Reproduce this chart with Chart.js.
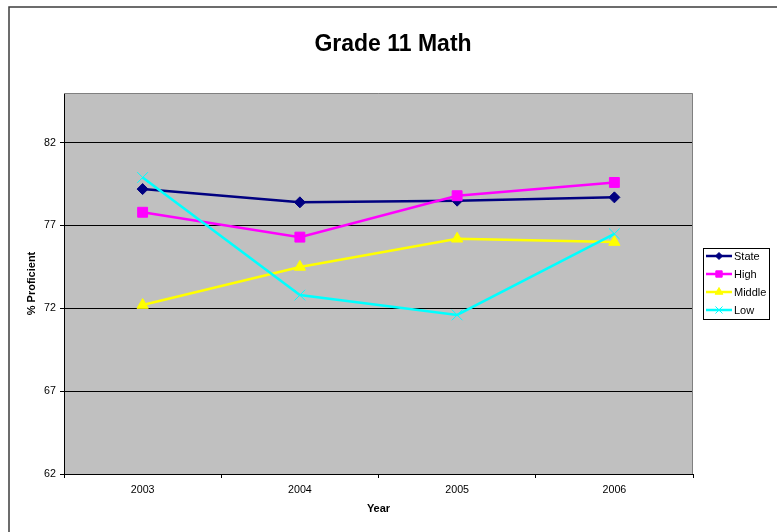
<!DOCTYPE html>
<html>
<head>
<meta charset="utf-8">
<script src="https://cdn.jsdelivr.net/npm/chart.js@4/dist/chart.umd.min.js"></script>
<style>
  body { margin: 0; background: #fff; }
  canvas { display: block; }
</style>
</head>
<body>
<canvas id="chart" width="777" height="532"></canvas>
<script>
const years = ['2003', '2004', '2005', '2006'];
const state = [79.2, 78.4, 78.5, 78.7];
const high = [77.8, 76.3, 78.8, 79.6];
const middle = [72.2, 74.5, 76.2, 76.0];
const low = [79.9, 72.8, 71.6, 76.5];
const yTicks = [62, 67, 72, 77, 82];

const FONT = "'Liberation Sans', Arial, sans-serif";

// grey plot area, frame round the chart and the boxed legend
const excelLook = {
    id: 'excelLook',
    beforeDraw(chart) {
        const ctx = chart.ctx;
        const a = chart.chartArea;
        ctx.save();
        ctx.strokeStyle = '#3c3c3c';
        ctx.lineWidth = 1.5;
        ctx.strokeRect(9, 7, 900, 700);
        ctx.fillStyle = '#c0c0c0';
        ctx.fillRect(a.left, a.top, a.right - a.left, a.bottom - a.top);
        ctx.restore();
    },
    beforeDatasetsDraw(chart) {
        const ctx = chart.ctx;
        const a = chart.chartArea;
        ctx.save();
        ctx.strokeStyle = '#808080';
        ctx.lineWidth = 1;
        ctx.beginPath();
        ctx.moveTo(a.left, a.top + 0.5);
        ctx.lineTo(a.right - 0.5, a.top + 0.5);
        ctx.lineTo(a.right - 0.5, a.bottom);
        ctx.stroke();
        ctx.restore();
    },
    afterDraw(chart) {
        const ctx = chart.ctx;
        const box = { x: 703, y: 248, w: 66, h: 71 };
        ctx.save();
        ctx.fillStyle = '#fff';
        ctx.fillRect(box.x, box.y, box.w, box.h);
        ctx.strokeStyle = '#000';
        ctx.lineWidth = 1;
        ctx.strokeRect(box.x + 0.5, box.y + 0.5, box.w, box.h);
        ctx.font = '11px ' + FONT;
        ctx.textBaseline = 'middle';
        ctx.textAlign = 'left';
        chart.data.datasets.forEach((ds, i) => {
            const y = 256 + i * 18;
            ctx.strokeStyle = ds.borderColor;
            ctx.lineWidth = 2.5;
            ctx.beginPath();
            ctx.moveTo(706, y);
            ctx.lineTo(732, y);
            ctx.stroke();
            ctx.lineWidth = 1;
            ctx.fillStyle = ds.borderColor;
            Chart.helpers.drawPoint(ctx, {
                pointStyle: ds.pointStyle,
                radius: ds.legendRadius,
                rotation: 0,
                borderWidth: 1
            }, 719, y);
            ctx.fillStyle = '#000';
            ctx.fillText(ds.label, 734, y + 0.5);
        });
        ctx.restore();
    }
};

function series(label, data, color, style, radius, legendRadius, order) {
    return {
        label: label,
        data: data,
        borderColor: color,
        backgroundColor: color,
        borderWidth: 2.5,
        tension: 0,
        pointStyle: style,
        pointRadius: radius,
        pointHoverRadius: radius,
        pointBorderWidth: 1,
        pointBackgroundColor: color,
        pointBorderColor: color,
        legendRadius: legendRadius,
        order: order
    };
}

new Chart(document.getElementById('chart'), {
    type: 'line',
    data: {
        labels: years,
        datasets: [
            series('State', state, '#000080', 'rectRot', 5.5, 3.5, 4),
            series('High', high, '#ff00ff', 'rect', 7, 4.5, 3),
            series('Middle', middle, '#ffff00', 'triangle', 6.5, 4.5, 2),
            series('Low', low, '#00ffff', 'crossRot', 7.5, 5, 1)
        ]
    },
    options: {
        responsive: false,
        animation: false,
        layout: { padding: { left: 9, right: 0, top: 0, bottom: 0 } },
        plugins: {
            legend: { display: false },
            tooltip: { enabled: false },
            title: {
                display: true,
                text: 'Grade 11 Math',
                color: '#000',
                font: { family: FONT, size: 23, weight: 'bold' },
                padding: { top: 31, bottom: 34.4 }
            }
        },
        scales: {
            x: {
                offset: true,
                grid: {
                    offset: true,
                    drawOnChartArea: false,
                    color: '#000',
                    tickLength: 4
                },
                border: { color: '#000', width: 1 },
                ticks: {
                    color: '#000',
                    padding: 6,
                    font: { family: FONT, size: 10.7 }
                },
                title: {
                    display: true,
                    text: 'Year',
                    color: '#000',
                    font: { family: FONT, size: 11, weight: 'bold' },
                    padding: { top: 0, bottom: 16.5 }
                },
                afterFit(scale) { scale.height = 58; }
            },
            y: {
                min: 62,
                max: 85,
                afterBuildTicks(scale) {
                    scale.ticks = yTicks.map(v => ({ value: v }));
                },
                grid: { color: '#000', tickLength: 4 },
                border: { color: '#000', width: 1 },
                ticks: {
                    color: '#000',
                    padding: 4,
                    font: { family: FONT, size: 10.7 }
                },
                title: {
                    display: true,
                    text: '% Proficient',
                    color: '#000',
                    font: { family: FONT, size: 11, weight: 'bold' },
                    padding: { top: 16.5, bottom: 0 }
                },
                afterFit(scale) { scale.width = 55; }
            },
            // empty right-hand strip that leaves room for the legend box
            gap: {
                type: 'linear',
                position: 'right',
                grid: { drawOnChartArea: false, drawTicks: false },
                border: { display: false },
                ticks: { display: false },
                afterFit(scale) { scale.width = 84; }
            }
        }
    },
    plugins: [excelLook]
});
</script>
</body>
</html>
